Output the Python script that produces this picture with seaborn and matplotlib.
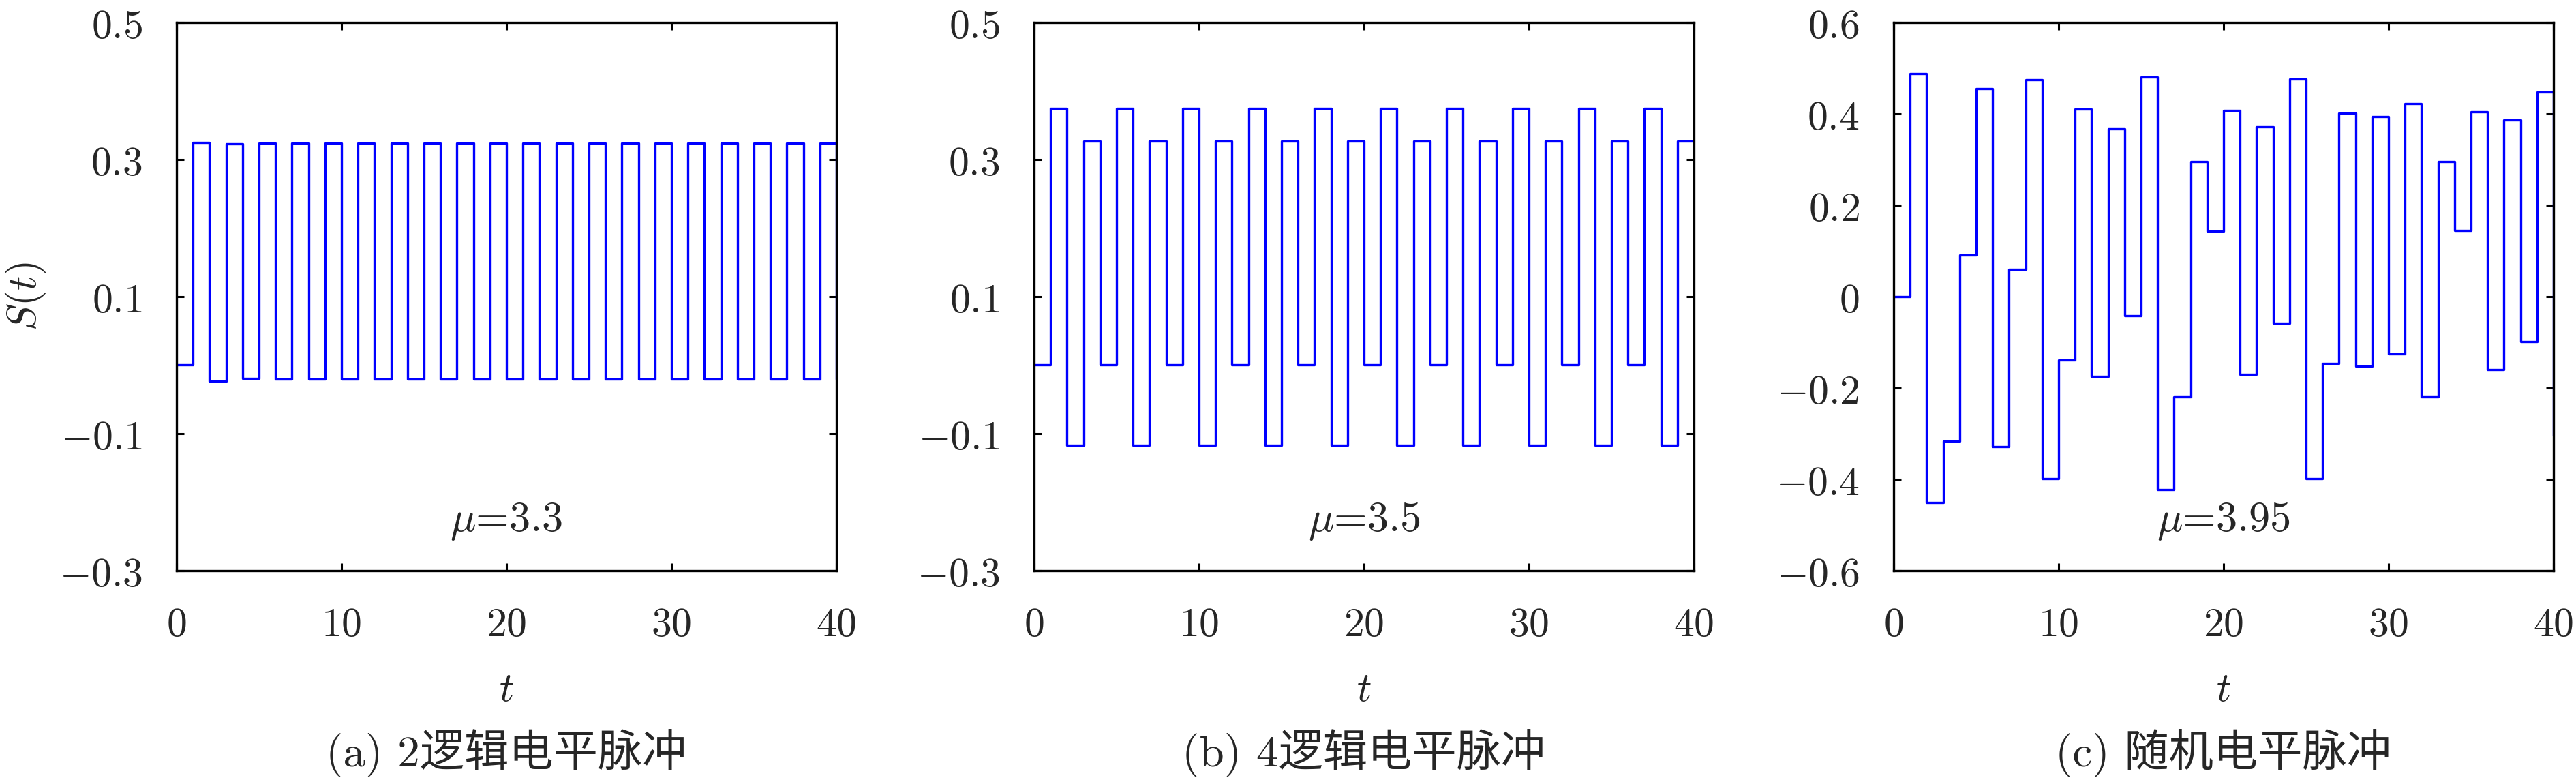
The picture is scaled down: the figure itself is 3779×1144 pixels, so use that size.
import pandas as pd
import matplotlib.pyplot as plt
import seaborn as sns

t = list(range(41))

# S(t) for mu = 3.3 (2-level)
s_a = [0.0, 0.325, -0.0236, 0.3232, -0.0196, 0.3237, -0.0208, 0.3236, -0.0205,
       0.3236, -0.0206, 0.3236, -0.0206, 0.3236, -0.0206, 0.3236, -0.0206,
       0.3236, -0.0206, 0.3236, -0.0206, 0.3236, -0.0206, 0.3236, -0.0206,
       0.3236, -0.0206, 0.3236, -0.0206, 0.3236, -0.0206, 0.3236, -0.0206,
       0.3236, -0.0206, 0.3236, -0.0206, 0.3236, -0.0206, 0.3236, -0.0206]

# mu = 3.5 (4-level)
s_b = [0.0,
       0.375, -0.1172, 0.3269, 0.0009, 0.375, -0.1172, 0.3269, 0.0009,
       0.375, -0.1172, 0.3269, 0.0009, 0.375, -0.1172, 0.3269, 0.0009,
       0.375, -0.1172, 0.3269, 0.0009, 0.375, -0.1172, 0.3269, 0.0009,
       0.375, -0.1172, 0.3269, 0.0009, 0.375, -0.1172, 0.3269, 0.0009,
       0.375, -0.1172, 0.3269, 0.0009, 0.375, -0.1172, 0.3269, 0.0009]

# mu = 3.95 (random levels)
s_c = [0.0, 0.4875, -0.451, -0.317, 0.091, 0.455, -0.329, 0.060, 0.474, -0.398,
       -0.139, 0.410, -0.174, 0.367, -0.042, 0.480, -0.422, -0.220, 0.296, 0.143,
       0.408, -0.170, 0.371, -0.058, 0.476, -0.399, -0.146, 0.402, -0.152, 0.394,
       -0.126, 0.423, -0.220, 0.295, 0.145, 0.404, -0.160, 0.386, -0.099, 0.448,
       -0.305]

mus = ['3.3', '3.5', '3.95']
captions = ['(a) 2逻辑电平脉冲', '(b) 4逻辑电平脉冲', '(c) 随机电平脉冲']
yticks_ab = [-0.3, -0.1, 0.1, 0.3, 0.5]
yticks_c = [-0.6, -0.4, -0.2, 0, 0.2, 0.4, 0.6]
xticks = [0, 10, 20, 30, 40]

sns.set_style('ticks')
plt.rcParams['mathtext.fontset'] = 'cm'
plt.rcParams['axes.linewidth'] = 2.4

fig = plt.figure(figsize=(37.8, 11.44), dpi=100)
lefts = [0.0685, 0.4013, 0.7349]

for i, (serie, mu, cap, left) in enumerate(zip([s_a, s_b, s_c], mus, captions, lefts)):
    ax = fig.add_axes([left, 0.2684, 0.2561, 0.7028])
    df = pd.DataFrame({'t': t, 'S': serie})
    sns.lineplot(data=df, x='t', y='S', ax=ax, color='blue', linewidth=2.4,
                 drawstyle='steps-post', estimator=None)

    yt = yticks_c if i == 2 else yticks_ab
    ax.set_xlim(0, 40)
    ax.set_ylim(yt[0], yt[-1])
    ax.set_xticks(xticks, [f'${v}$' for v in xticks])
    ax.set_yticks(yt, [f'${v:g}$' for v in yt])
    ax.tick_params(direction='in', top=True, right=True, length=8, width=2.2,
                   labelsize=43, pad=36, color='black')
    for sp in ax.spines.values():
        sp.set_color('black')

    ax.set_xlabel('$t$', fontsize=43)
    ax.xaxis.set_label_coords(0.5, -0.18)
    if i == 0:
        ax.set_ylabel('$S(t)$', fontsize=43)
        ax.yaxis.set_label_coords(-0.195, 0.5)
    else:
        ax.set_ylabel('')

    ax.text(0.5, 0.072, rf'$\mu$={mu}', transform=ax.transAxes, ha='center',
            va='baseline', fontsize=45, family='cmr10')
    ax.text(0.5, -0.333, cap, transform=ax.transAxes, ha='center', va='center',
            fontsize=47, family=['cmr10', 'Noto Sans CJK SC'])

plt.savefig('out.png', dpi=100)
plt.close()
